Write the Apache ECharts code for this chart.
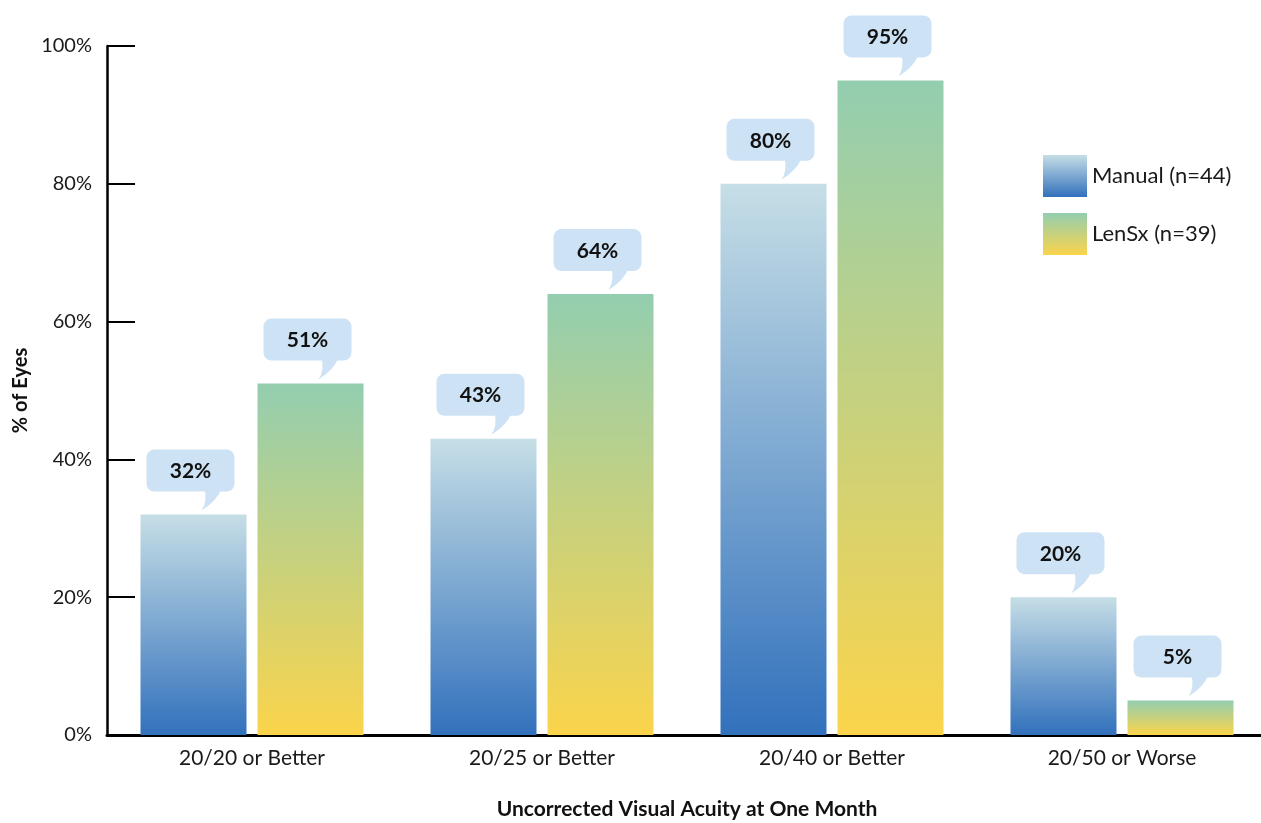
<!DOCTYPE html>
<html>
<head>
<meta charset="utf-8">
<title>Uncorrected Visual Acuity at One Month</title>
<script src="https://cdn.jsdelivr.net/npm/echarts@6/dist/echarts.min.js"></script>
<style>
  html, body { margin: 0; padding: 0; background: #fff; }
  #chart { width: 1261px; height: 823px; }
</style>
</head>
<body>
<div id="chart"></div>
<script>
// Categories and percentages of eyes per group
var categories = ['20/20 or Better', '20/25 or Better', '20/40 or Better', '20/50 or Worse'];
var manualValues = [32, 43, 80, 20];
var lensxValues = [51, 64, 95, 5];
var seriesNames = ['Manual (n=44)', 'LenSx (n=39)'];
var yTicks = [0, 20, 40, 60, 80, 100];

var FONT = 'Lato, "Open Sans", sans-serif';
var BAR_W = 106;
var BAR_GAP = 11;
var BUBBLE_COLOR = '#cde2f4';

function vGrad(top, bottom) {
  return new echarts.graphic.LinearGradient(0, 0, 0, 1, [
    { offset: 0, color: top },
    { offset: 1, color: bottom }
  ]);
}

// Bubble data: [category index, value, series index]
var bubbleData = [];
manualValues.forEach(function (v, i) { bubbleData.push([i, v, 0]); });
lensxValues.forEach(function (v, i) { bubbleData.push([i, v, 1]); });

function renderBubble(params, api) {
  var pt = api.coord([api.value(0), api.value(1)]);
  var off = (BAR_W + BAR_GAP) / 2;
  var cx = pt[0] + (api.value(2) === 0 ? -off : off);
  var barTop = pt[1];
  var top = barTop - 65;
  var h = 42;
  var bottom = top + h;
  var left = cx - 47;
  var w = 88;
  var tipX = cx + 8, tipY = barTop - 4;
  var path = 'M' + (cx + 11) + ' ' + (bottom - 3) +
    ' Q' + (cx + 14) + ' ' + (tipY - 9) + ' ' + tipX + ' ' + tipY +
    ' Q' + (cx + 24) + ' ' + (tipY - 10) + ' ' + (cx + 28) + ' ' + (bottom - 3) + ' Z';
  return {
    type: 'group',
    children: [
      {
        type: 'rect',
        shape: { x: left, y: top, width: w, height: h, r: 8 },
        style: { fill: BUBBLE_COLOR }
      },
      {
        type: 'path',
        shape: { pathData: path },
        style: { fill: BUBBLE_COLOR }
      },
      {
        type: 'text',
        x: left + w / 2,
        y: top + h / 2 + 1,
        style: {
          text: api.value(1) + '%',
          fill: '#111',
          font: 'bold 21px ' + FONT,
          align: 'center',
          verticalAlign: 'middle'
        }
      }
    ]
  };
}

var chart = echarts.init(document.getElementById('chart'), null, { renderer: 'canvas' });

var manualColor = vGrad('#c6dee6', '#3271bc');
var lensxColor = vGrad('#93ceb0', '#fbd44b');

chart.setOption({
  backgroundColor: '#ffffff',
  animation: false,
  textStyle: { fontFamily: FONT },
  grid: { left: 107, right: -6, top: 46, bottom: 88, outerBoundsMode: 'none', containLabel: false },
  legend: {
    orient: 'vertical',
    left: 1038,
    top: 150,
    itemWidth: 44,
    itemHeight: 42,
    itemGap: 16,
    icon: 'rect',
    data: seriesNames,
    textStyle: { fontSize: 22, color: '#1a1a1a', fontFamily: FONT, padding: [0, 0, 0, 0] }
  },
  xAxis: {
    type: 'category',
    data: categories,
    name: 'Uncorrected Visual Acuity at One Month',
    nameLocation: 'middle',
    nameGap: 64,
    nameTextStyle: { fontSize: 21, fontWeight: 'bold', color: '#111', fontFamily: FONT },
    axisLine: { lineStyle: { color: '#000', width: 3 } },
    axisTick: { inside: true, length: 15, lineStyle: { color: '#000', width: 2 } },
    axisLabel: { fontSize: 21, color: '#1a1a1a', margin: 13, fontFamily: FONT },
    splitLine: { show: false }
  },
  yAxis: {
    type: 'value',
    min: yTicks[0],
    max: yTicks[yTicks.length - 1],
    interval: yTicks[1] - yTicks[0],
    name: '% of Eyes',
    nameLocation: 'middle',
    nameGap: 75,
    nameRotate: 90,
    nameTextStyle: { fontSize: 20, fontWeight: 'bold', color: '#111', fontFamily: FONT },
    axisLine: { show: true, lineStyle: { color: '#000', width: 2.5 } },
    axisTick: { show: true, inside: true, length: 28, lineStyle: { color: '#000', width: 2 } },
    axisLabel: { formatter: '{value}%', fontSize: 20, color: '#1a1a1a', margin: 15, fontFamily: FONT },
    splitLine: { show: false }
  },
  series: [
    {
      name: seriesNames[0],
      type: 'bar',
      data: manualValues,
      barWidth: BAR_W,
      barGap: (BAR_GAP / BAR_W * 100) + '%',
      itemStyle: { color: manualColor }
    },
    {
      name: seriesNames[1],
      type: 'bar',
      data: lensxValues,
      barWidth: BAR_W,
      itemStyle: { color: lensxColor }
    },
    {
      name: 'bubbles',
      type: 'custom',
      renderItem: renderBubble,
      data: bubbleData,
      encode: { x: 0, y: 1 },
      z: 5,
      silent: true
    }
  ]
});
</script>
</body>
</html>
